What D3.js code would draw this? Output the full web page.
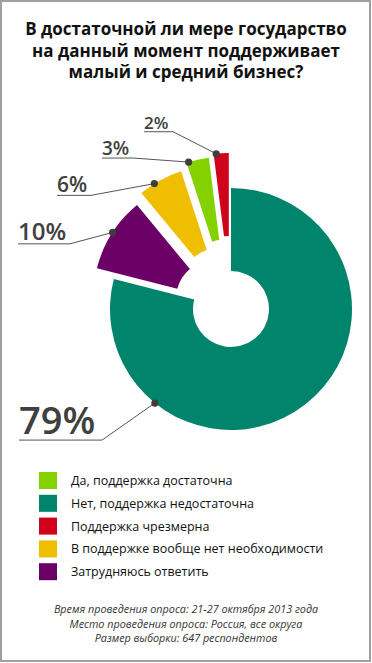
<!DOCTYPE html>
<html>
<head>
<meta charset="utf-8">
<script src="https://cdn.jsdelivr.net/npm/d3@7"></script>
<style>
  body { margin: 0; background: #fff; }
  svg text { font-family: "Open Sans", sans-serif; }
</style>
</head>
<body>
<svg id="chart" width="372" height="663"></svg>
<script>
// Data
const titleLines = ["В достаточной ли мере государство", "на данный момент поддерживает", "малый и средний бизнес?"];
const categories = ["Да, поддержка достаточна", "Нет, поддержка недостаточна", "Поддержка чрезмерна",
  "В поддержке вообще нет необходимости", "Затрудняюсь ответить"];
const values = [3, 79, 2, 6, 10];
// order of slices in the ring, clockwise from 12 o'clock
const ringOrder = [1, 4, 3, 0, 2];
const notes = ["Время проведения опроса: 21-27 октября 2013 года",
  "Место проведения опроса: Россия, все округа",
  "Размер выборки: 647 респондентов"];

// Styles
const colors = ["#85d100", "#00846b", "#d0021b", "#efbe00", "#6b0066"];
const explode = [32, 0, 35, 26, 20];
const dotAngle = [343, 219, 354, 328, 303]; // degrees, where the leader dot sits
const labelStyle = [
  {x: 102, y: 155, size: 19, end: 133},
  {x: 19, y: 434, size: 38, end: 102},
  {x: 144, y: 129, size: 17, end: 173},
  {x: 57, y: 192, size: 21, end: 91},
  {x: 18, y: 240, size: 24, end: 70}
];

const svg = d3.select("#chart");
const cx = 231, cy = 309, rOuter = 121, rInner = 38;

// border
svg.append("rect")
  .attr("x", 1).attr("y", 1).attr("width", 369).attr("height", 660)
  .attr("fill", "#fff").attr("stroke", "#a0a0a0").attr("stroke-width", 2);

// title
svg.append("text")
  .attr("text-anchor", "middle")
  .attr("font-weight", "bold")
  .attr("font-size", 17)
  .attr("fill", "#111")
  .selectAll("tspan")
  .data(titleLines)
  .join("tspan")
    .attr("x", 186)
    .attr("y", (d, i) => 35 + i * 21.5)
    .text(d => d);

// pie
const pie = d3.pie().sort(null).value(i => values[i]);
const arcs = pie(ringOrder);
const arc = d3.arc().innerRadius(rInner).outerRadius(rOuter);

const g = svg.append("g").attr("transform", `translate(${cx},${cy})`);

function offset(d) {
  const i = d.data;
  const mid = (d.startAngle + d.endAngle) / 2;
  return [Math.sin(mid) * explode[i], -Math.cos(mid) * explode[i]];
}

g.selectAll("path.slice")
  .data(arcs)
  .join("path")
    .attr("class", "slice")
    .attr("fill", d => colors[d.data])
    .attr("transform", d => `translate(${offset(d)})`)
    .attr("d", arc);

// labels with leader lines
arcs.forEach(d => {
  const i = d.data;
  const [ox, oy] = offset(d);
  const a = dotAngle[i] * Math.PI / 180;
  const dx = cx + ox + Math.sin(a) * rOuter;
  const dy = cy + oy - Math.cos(a) * rOuter;
  const ls = labelStyle[i];
  const uy = ls.y + ls.size * 0.16;
  svg.append("path")
    .attr("d", d3.line()([[ls.x, uy], [ls.end, uy], [dx, dy]]))
    .attr("fill", "none")
    .attr("stroke", "#555")
    .attr("stroke-width", 1);
  svg.append("circle")
    .attr("cx", dx).attr("cy", dy).attr("r", 3.6)
    .attr("fill", "#3d3d3d");
  svg.append("text")
    .attr("x", ls.x).attr("y", ls.y)
    .attr("font-size", ls.size)
    .attr("font-weight", 600)
    .attr("fill", "#404040")
    .text(d3.format(".0f")(values[i]) + "%");
});

// legend
const legend = svg.append("g")
  .selectAll("g")
  .data(categories)
  .join("g")
    .attr("transform", (d, i) => `translate(39,${472 + i * 22.8})`);
legend.append("rect")
  .attr("width", 18).attr("height", 17)
  .attr("fill", (d, i) => colors[i]);
legend.append("text")
  .attr("x", 32).attr("y", 13)
  .attr("font-size", 12.5)
  .attr("fill", "#111")
  .text(d => d);

// footnote
svg.append("text")
  .attr("text-anchor", "middle")
  .attr("font-style", "italic")
  .attr("font-size", 10.8)
  .attr("fill", "#333")
  .selectAll("tspan")
  .data(notes)
  .join("tspan")
    .attr("x", 186)
    .attr("y", (d, i) => 613 + i * 14.5)
    .text(d => d);
</script>
</body>
</html>
